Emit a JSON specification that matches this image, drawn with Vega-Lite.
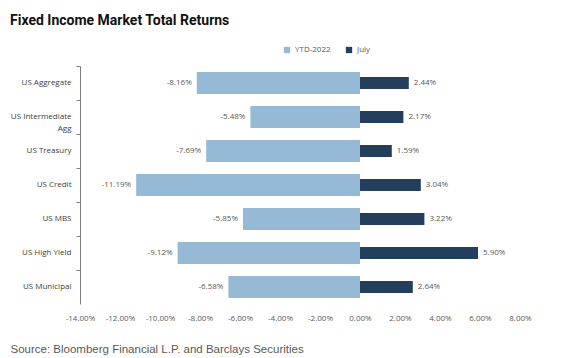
{
  "$schema": "https://vega.github.io/schema/vega-lite/v6.json",
  "autosize": "none",
  "width": 440,
  "height": 238,
  "padding": {"left": 80, "top": 66, "right": 55, "bottom": 54},
  "background": "white",
  "config": {
    "view": {"stroke": null},
    "locale": {"number": {"decimal": ".", "thousands": ",", "grouping": [3], "currency": ["$", ""], "minus": "-"}}
  },
  "title": {
    "text": "Fixed Income Market Total Returns",
    "anchor": "start",
    "frame": "group",
    "dx": -70,
    "font": "Roboto",
    "fontSize": 14,
    "fontWeight": "bold",
    "color": "#111111",
    "offset": 18
  },
  "data": {
    "values": [
      {"category": "US Aggregate", "series": "YTD-2022", "value": -0.0816},
      {"category": "US Intermediate Agg", "series": "YTD-2022", "value": -0.0548},
      {"category": "US Treasury", "series": "YTD-2022", "value": -0.0769},
      {"category": "US Credit", "series": "YTD-2022", "value": -0.1119},
      {"category": "US MBS", "series": "YTD-2022", "value": -0.0585},
      {"category": "US High Yield", "series": "YTD-2022", "value": -0.0912},
      {"category": "US Municipal", "series": "YTD-2022", "value": -0.0658},
      {"category": "US Aggregate", "series": "July", "value": 0.0244},
      {"category": "US Intermediate Agg", "series": "July", "value": 0.0217},
      {"category": "US Treasury", "series": "July", "value": 0.0159},
      {"category": "US Credit", "series": "July", "value": 0.0304},
      {"category": "US MBS", "series": "July", "value": 0.0322},
      {"category": "US High Yield", "series": "July", "value": 0.059},
      {"category": "US Municipal", "series": "July", "value": 0.0264}
    ]
  },
  "encoding": {
    "y": {
      "field": "category",
      "type": "nominal",
      "sort": null,
      "scale": {"paddingInner": 0, "paddingOuter": 0},
      "axis": {
        "title": null,
        "labelExpr": "datum.value == 'US Intermediate Agg' ? ['US Intermediate', 'Agg'] : datum.value",
        "labelFont": "Open Sans",
        "labelFontSize": 8,
        "labelColor": "#404040",
        "labelPadding": 5,
        "labelLineHeight": 12,
        "bandPosition": 0,
        "ticks": true,
        "tickSize": 4,
        "tickColor": "#808080",
        "domainColor": "#808080",
        "grid": false
      }
    },
    "x": {
      "field": "value",
      "type": "quantitative",
      "scale": {"domain": [-0.14, 0.08], "nice": false},
      "axis": {
        "format": ".2%",
        "values": [-0.14, -0.12, -0.1, -0.08, -0.06, -0.04, -0.02, 0, 0.02, 0.04, 0.06, 0.08],
        "labelOverlap": false,
        "labelBound": false,
        "labelFlush": false,
        "domain": false,
        "ticks": false,
        "grid": false,
        "labelFont": "Open Sans",
        "labelFontSize": 8,
        "labelColor": "#595959",
        "labelPadding": 10,
        "title": "Source: Bloomberg Financial L.P. and Barclays Securities",
        "titleAnchor": "start",
        "titleAlign": "left",
        "titleX": -70,
        "titleY": 45,
        "titleBaseline": "middle",
        "titleFont": "Liberation Sans",
        "titleFontSize": 11.5,
        "titleFontWeight": "normal",
        "titleColor": "#595959"
      }
    }
  },
  "layer": [
    {
      "transform": [{"filter": "datum.series == 'YTD-2022'"}],
      "mark": {"type": "bar", "size": 22},
      "encoding": {
        "color": {
          "field": "series",
          "type": "nominal",
          "scale": {"domain": ["YTD-2022", "July"], "range": ["#96B9D5", "#243F5B"]},
          "legend": {
            "title": null,
            "orient": "none",
            "direction": "horizontal",
            "legendX": 203,
            "legendY": -20,
            "symbolType": "square",
            "symbolSize": 40,
            "labelFont": "Open Sans",
            "labelFontSize": 8,
            "labelColor": "#595959",
            "columnPadding": 14,
            "symbolOffset": 0
          }
        }
      }
    },
    {
      "transform": [{"filter": "datum.series == 'July'"}],
      "mark": {"type": "bar", "size": 12},
      "encoding": {
        "color": {"field": "series", "type": "nominal"}
      }
    },
    {
      "transform": [{"filter": "datum.series == 'YTD-2022'"}],
      "mark": {"type": "text", "align": "right", "dx": -5, "font": "Open Sans", "fontSize": 8, "color": "#595959"},
      "encoding": {"text": {"field": "value", "type": "quantitative", "format": ".2%"}}
    },
    {
      "transform": [{"filter": "datum.series == 'July'"}],
      "mark": {"type": "text", "align": "left", "dx": 5, "font": "Open Sans", "fontSize": 8, "color": "#595959"},
      "encoding": {"text": {"field": "value", "type": "quantitative", "format": ".2%"}}
    }
  ]
}
